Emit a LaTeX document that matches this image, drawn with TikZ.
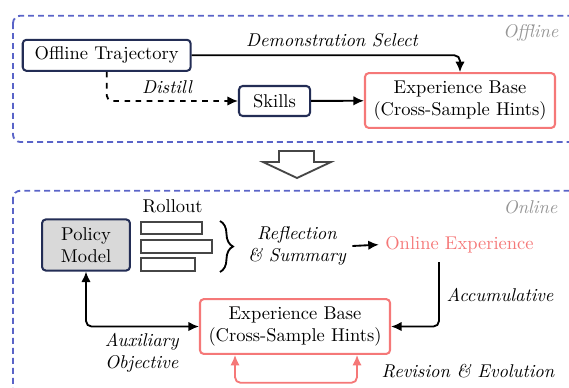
\documentclass[tikz,border=0pt]{standalone}
\usetikzlibrary{arrows.meta,decorations.pathreplacing}

\definecolor{navy}{RGB}{35,45,85}
\definecolor{salmon}{RGB}{245,120,120}
\definecolor{regionblue}{RGB}{90,100,200}
\definecolor{tagGray}{RGB}{150,150,150}
\definecolor{barGray}{RGB}{70,70,70}
\definecolor{policyFill}{RGB}{217,217,217}

\begin{document}
\begin{tikzpicture}
  % Define styles for nodes
  \tikzstyle{box} = [draw=navy, rectangle, rounded corners=2pt,
  line width=1.1pt, fill=white, align=center]
  \tikzstyle{expbase} = [draw=salmon, rectangle, rounded corners=2pt,
  line width=1.1pt, fill=white, align=center, minimum width=3.61cm,
  minimum height=1.04cm]
  \tikzstyle{bar} = [draw=barGray, line width=1.1pt]
  \tikzstyle{note} = [font=\itshape, align=center]
  \tikzstyle{tag} = [font=\itshape, text=tagGray, anchor=east]
  \tikzstyle{region} = [draw=regionblue, line width=1pt, rounded corners=4pt,
  dash pattern=on 3.2pt off 2.2pt]
  \tikzstyle{flow} = [line width=1pt, -{Latex[length=2mm,width=1.8mm]},
  rounded corners=3pt]
  \tikzstyle{twoway} = [{Latex[length=2mm,width=1.8mm]}-{Latex[length=2mm,width=1.8mm]}]

  \useasboundingbox (0,0) rectangle (10.811,-7.353);

  % Dashed regions
  \draw[region] (0.247,-0.298) rectangle (11.02,-2.698);
  \draw[region] (0.247,-3.623) rectangle (11.02,-7.6);
  \node[tag] (offtag) at (10.735,-0.633) {Offline};
  \node[tag] (ontag) at (10.716,-3.933) {Online};

  % Offline stage
  \node[box, minimum width=3.19cm, minimum height=0.59cm] (traj) at (2.027,-1.051) {Offline Trajectory};
  \node[box, minimum width=1.35cm, minimum height=0.57cm] (skills) at (5.216,-1.919) {Skills};
  \node[expbase] (topbase) at (8.74,-1.91) {Experience Base\\(Cross-Sample Hints)};

  \draw[flow] (traj.east) -| (topbase.north);
  \node[note] (demo) at (6.308,-0.76) {Demonstration Select};
  \draw[flow, dashed] (traj.south) |- (skills.west);
  \node[note] (distill) at (3.173,-1.653) {Distill};
  \draw[flow] (skills) -- (topbase);

  % Hollow arrow between the two stages
  \draw[draw=barGray, line width=1pt, line join=miter]
    (5.301,-2.869) -- (5.301,-3.078) -- (4.997,-3.078) -- (5.643,-3.382)
    -- (6.289,-3.078) -- (5.966,-3.078) -- (5.966,-2.869) -- cycle;

  % Online stage
  \node[box, fill=policyFill, minimum width=1.67cm, minimum height=0.97cm] (policy) at (1.634,-4.655) {Policy\\Model};
  \node (rollout) at (3.281,-3.914) {Rollout};
  \draw[bar] (2.673,-4.218) rectangle (3.832,-4.446);
  \draw[bar] (2.673,-4.554) rectangle (4.034,-4.807);
  \draw[bar] (2.673,-4.902) rectangle (3.705,-5.155);
  \draw[line width=1pt, decorate, decoration={brace, amplitude=7pt}]
    (4.18,-4.199) -- (4.18,-5.168);

  \node[note] (reflect) at (5.643,-4.674) {Reflection\\\& Summary};
  \node[text=salmon] (onexp) at (8.73,-4.649) {Online Experience};
  \draw[flow] (reflect.east) -- (onexp.west);

  \node[expbase] (botbase) at (5.605,-6.204) {Experience Base\\(Cross-Sample Hints)};

  \coordinate (accstart) at (8.341,-4.978);
  \draw[flow] (accstart) |- (botbase.east);
  \node[note] (accum) at (9.5,-5.599) {Accumulative};

  \draw[flow, twoway] (policy.south) |- (botbase.west);
  \node[note] (aux) at (2.692,-6.707) {Auxiliary\\Objective};

  \draw[flow, twoway, salmon]
    ([xshift=-1.14cm]botbase.south) -- ++(0,-0.53) -| ([xshift=1.178cm]botbase.south);
  \node[note] (revise) at (8.892,-7.055) {Revision \& Evolution};
\end{tikzpicture}
\end{document}
